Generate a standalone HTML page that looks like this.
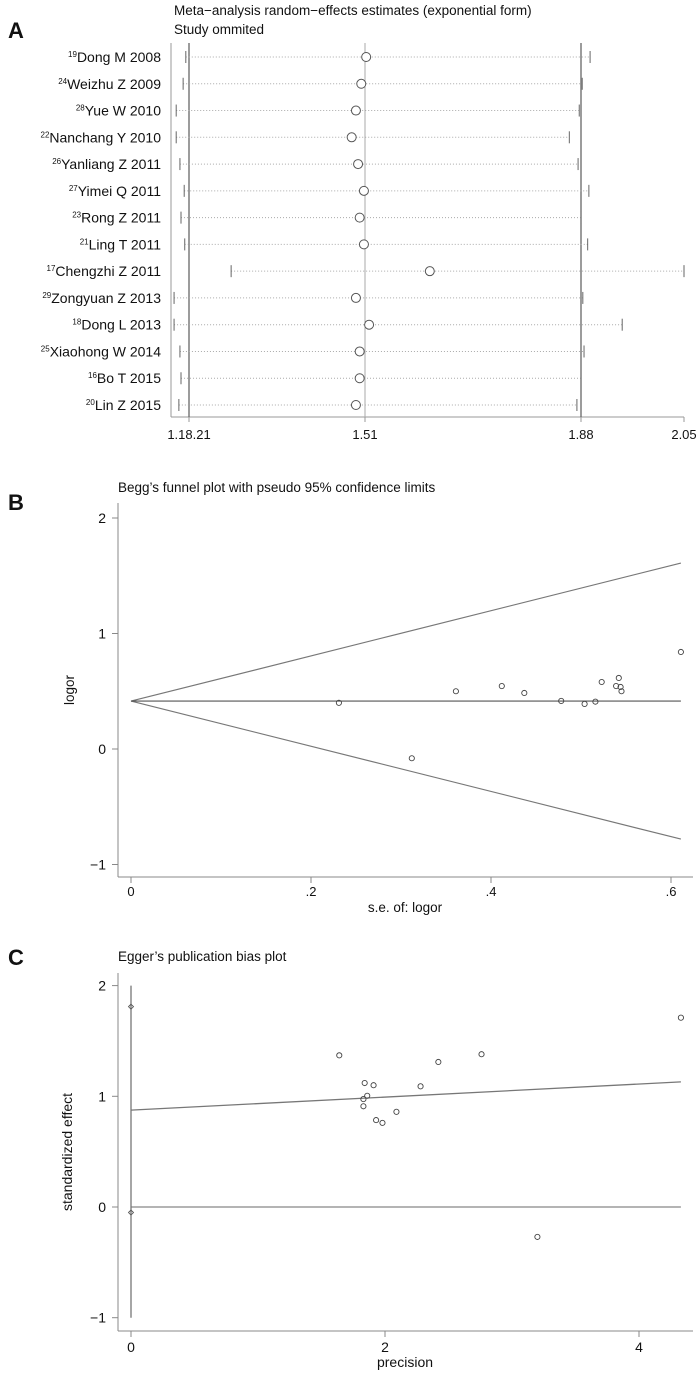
<!DOCTYPE html>
<html><head><meta charset="utf-8"><style>
html,body{margin:0;padding:0;background:#fff;}
svg{display:block;font-family:"Liberation Sans",sans-serif;}
</style></head><body>
<svg id="fig" width="700" height="1373" viewBox="0 0 700 1373"></svg>
<script>
// ---------- Panel A data ----------
const studyNames=["Dong M 2008","Weizhu Z 2009","Yue W 2010","Nanchang Y 2010","Yanliang Z 2011","Yimei Q 2011","Rong Z 2011","Ling T 2011","Chengzhi Z 2011","Zongyuan Z 2013","Dong L 2013","Xiaohong W 2014","Bo T 2015","Lin Z 2015"];
const studyRefs=["19","24","28","22","26","27","23","21","17","29","18","25","16","20"];
const studyEst=[1.512,1.503,1.493,1.485,1.497,1.508,1.500,1.508,1.621,1.493,1.517,1.500,1.500,1.493];
const studyLow=[1.174,1.169,1.156,1.156,1.163,1.171,1.165,1.172,1.259,1.152,1.152,1.163,1.165,1.161];
const studyHigh=[1.895,1.882,1.877,1.860,1.875,1.893,1.880,1.891,2.050,1.883,1.948,1.885,1.880,1.873];
const aTickVals=[1.18,1.51,1.88,2.05];
const aTickLabels=["1.18.21","1.51","1.88","2.05"];
// ---------- Panel B data ----------
const beggSE=[0.231,0.361,0.412,0.437,0.478,0.504,0.516,0.523,0.539,0.542,0.544,0.545,0.611,0.312];
const beggLogOR=[0.40,0.50,0.545,0.485,0.416,0.39,0.41,0.58,0.545,0.615,0.537,0.50,0.84,-0.08];
const beggPooled=[0.415];
const beggUpperEnd=[1.61];
const beggLowerEnd=[-0.78];
const beggMaxSE=[0.611];
const bXTicks=[0,0.2,0.4,0.6];
const bXTickLabels=["0",".2",".4",".6"];
const bYTicks=[2,1,0,-1];
const bYTickLabels=["2","1","0","\u22121"];
// ---------- Panel C data ----------
const eggPrec=[1.64,1.84,1.91,1.83,1.86,1.83,1.93,1.98,2.09,2.28,2.42,2.76,3.20,4.33];
const eggStd=[1.37,1.12,1.10,0.975,1.005,0.91,0.785,0.76,0.86,1.09,1.31,1.38,-0.27,1.71];
const eggIntercept=[0.875];
const eggSlope=[0.0589];
const eggCI=[-1,2];
const eggDiamonds=[1.81,-0.05];
const eggMaxPrec=[4.33];
const cXTicks=[0,2,4];
const cXTickLabels=["0","2","4"];
const cYTicks=[2,1,0,-1];
const cYTickLabels=["2","1","0","\u22121"];

const NS="http://www.w3.org/2000/svg";
const svg=document.getElementById('fig');
function mk(tag,attrs,parent){const e=document.createElementNS(NS,tag);for(const k in attrs)e.setAttribute(k,attrs[k]);(parent||svg).appendChild(e);return e;}
function txt(x,y,s,size,anchor,parent,weight){const t=mk('text',{x:x,y:y,'font-size':size,'text-anchor':anchor||'start','fill':'#111'},parent);if(weight)t.setAttribute('font-weight',weight);t.textContent=s;return t;}

// ================= Panel A =================
const gA=mk('g',{});


const aPx=[189,365,581,684];
function ax(v){ // piecewise linear axis through tick anchors
  let i=0; if(v>aTickVals[2]) i=2; else if(v>aTickVals[1]) i=1;
  return aPx[i]+(v-aTickVals[i])*(aPx[i+1]-aPx[i])/(aTickVals[i+1]-aTickVals[i]);
}
function ay(i){return 57+i*26.77;}
let t=txt(8,38,'A',22,'start',gA,'bold');

t=txt(174,15,'Meta\u2212analysis random\u2212effects estimates (exponential form)',13.5,'start',gA);

t=txt(174,34,'Study ommited',13.5,'start',gA);

let l=mk('line',{x1:171,y1:43,x2:171,y2:417,stroke:'#999','stroke-width':1},gA);

l=mk('line',{x1:171,y1:417,x2:684,y2:417,stroke:'#999','stroke-width':1},gA);

// reference lines
[[aTickVals[0],'#666',1.3],[aTickVals[1],'#aaa',1],[aTickVals[2],'#666',1.3]].forEach((r,k)=>{
  const v=mk('line',{x1:ax(r[0]),y1:43,x2:ax(r[0]),y2:417,stroke:r[1],'stroke-width':r[2]},gA);
  
  
});
aTickVals.forEach((v,i)=>{
  const tk=mk('line',{x1:ax(v),y1:417,x2:ax(v),y2:422,stroke:'#999'},gA);
  
  
  const tl=txt(ax(v),439,aTickLabels[i],13,'middle',gA);
  
  
});
studyNames.forEach((n,i)=>{
  const y=ay(i);
  const lab=mk('text',{x:161,y:y+5,'font-size':14,'text-anchor':'end',fill:'#111'},gA);
  
  
  const sup=mk('tspan',{'font-size':8,dy:-5},lab);sup.textContent=studyRefs[i];
  const nm=mk('tspan',{dy:5},lab);nm.textContent=n;
  const d=mk('line',{x1:ax(studyLow[i]),y1:y,x2:ax(studyHigh[i]),y2:y,stroke:'#aaa','stroke-width':1,'stroke-dasharray':'1,2'},gA);
  
  
  [studyLow[i],studyHigh[i]].forEach(v=>{
    const c=mk('line',{x1:ax(v),y1:y-6,x2:ax(v),y2:y+6,stroke:'#666','stroke-width':1},gA);
    
    
  });
  const c=mk('circle',{cx:ax(studyEst[i]),cy:y,r:4.5,fill:'#fff',stroke:'#555','stroke-width':1},gA);
  
  
});

// ================= Panel B =================
const gB=mk('g',{});


function bx(v){return 131+v*900;}
function by(v){return 749-v*115.5;}
t=txt(8,510,'B',22,'start',gB,'bold');

t=txt(118,492,'Begg\u2019s funnel plot with pseudo 95% confidence limits',13.5,'start',gB);

l=mk('line',{x1:118,y1:503,x2:118,y2:877,stroke:'#888'},gB);

l=mk('line',{x1:118,y1:877,x2:693,y2:877,stroke:'#888'},gB);

bYTicks.forEach((v,i)=>{
  const tk=mk('line',{x1:112,y1:by(v),x2:118,y2:by(v),stroke:'#888'},gB);
  
  
  const tl=txt(106,by(v)+5,bYTickLabels[i],14,'end',gB);
  
  
});
bXTicks.forEach((v,i)=>{
  const tk=mk('line',{x1:bx(v),y1:877,x2:bx(v),y2:883,stroke:'#888'},gB);
  
  
  const tl=txt(bx(v),896,bXTickLabels[i],13,'middle',gB);
  
  
});
t=txt(405,912,'s.e. of: logor',13.5,'middle',gB);

t=txt(0,0,'logor',13.5,'middle',gB);
t.setAttribute('transform','translate(74,690) rotate(-90)');

l=mk('line',{x1:bx(0),y1:by(beggPooled[0]),x2:bx(beggMaxSE[0]),y2:by(beggUpperEnd[0]),stroke:'#777','stroke-width':1.2},gB);

l=mk('line',{x1:bx(0),y1:by(beggPooled[0]),x2:bx(beggMaxSE[0]),y2:by(beggLowerEnd[0]),stroke:'#777','stroke-width':1.2},gB);

l=mk('line',{x1:bx(0),y1:by(beggPooled[0]),x2:bx(beggMaxSE[0]),y2:by(beggPooled[0]),stroke:'#555','stroke-width':1.2},gB);

beggSE.forEach((s,i)=>{
  const c=mk('circle',{cx:bx(s),cy:by(beggLogOR[i]),r:2.6,fill:'none',stroke:'#444','stroke-width':0.9},gB);
  
  
});

// ================= Panel C =================
const gC=mk('g',{});


function cx(v){return 131+v*127;}
function cy(v){return 1207-v*110.7;}
t=txt(8,965,'C',22,'start',gC,'bold');

t=txt(118,961,'Egger\u2019s publication bias plot',13.5,'start',gC);

l=mk('line',{x1:118,y1:973,x2:118,y2:1331,stroke:'#888'},gC);

l=mk('line',{x1:118,y1:1331,x2:693,y2:1331,stroke:'#888'},gC);

cYTicks.forEach((v,i)=>{
  const tk=mk('line',{x1:112,y1:cy(v),x2:118,y2:cy(v),stroke:'#888'},gC);
  
  
  const tl=txt(106,cy(v)+5,cYTickLabels[i],14,'end',gC);
  
  
});
cXTicks.forEach((v,i)=>{
  const tk=mk('line',{x1:cx(v),y1:1331,x2:cx(v),y2:1337,stroke:'#888'},gC);
  
  
  const tl=txt(cx(v),1352,cXTickLabels[i],14,'middle',gC);
  
  
});
t=txt(405,1367,'precision',14,'middle',gC);

t=txt(0,0,'standardized effect',14,'middle',gC);
t.setAttribute('transform','translate(72,1152) rotate(-90)');

l=mk('line',{x1:cx(0),y1:cy(0),x2:cx(eggMaxPrec[0]),y2:cy(0),stroke:'#888','stroke-width':1.2},gC);

l=mk('line',{x1:cx(0),y1:cy(eggIntercept[0]),x2:cx(eggMaxPrec[0]),y2:cy(eggIntercept[0]+eggSlope[0]*eggMaxPrec[0]),stroke:'#777','stroke-width':1.3},gC);

l=mk('line',{x1:cx(0),y1:cy(eggCI[0]),x2:cx(0),y2:cy(eggCI[1]),stroke:'#777','stroke-width':1.3},gC);

eggDiamonds.forEach(v=>{
  const px=cx(0),py=cy(v);
  const d=mk('polygon',{points:`${px},${py-2.5} ${px+2.5},${py} ${px},${py+2.5} ${px-2.5},${py}`,fill:'none',stroke:'#555','stroke-width':0.9},gC);
  
  
});
eggPrec.forEach((p,i)=>{
  const c=mk('circle',{cx:cx(p),cy:cy(eggStd[i]),r:2.6,fill:'none',stroke:'#444','stroke-width':0.9},gC);
  
  
});
</script>
</body></html>
